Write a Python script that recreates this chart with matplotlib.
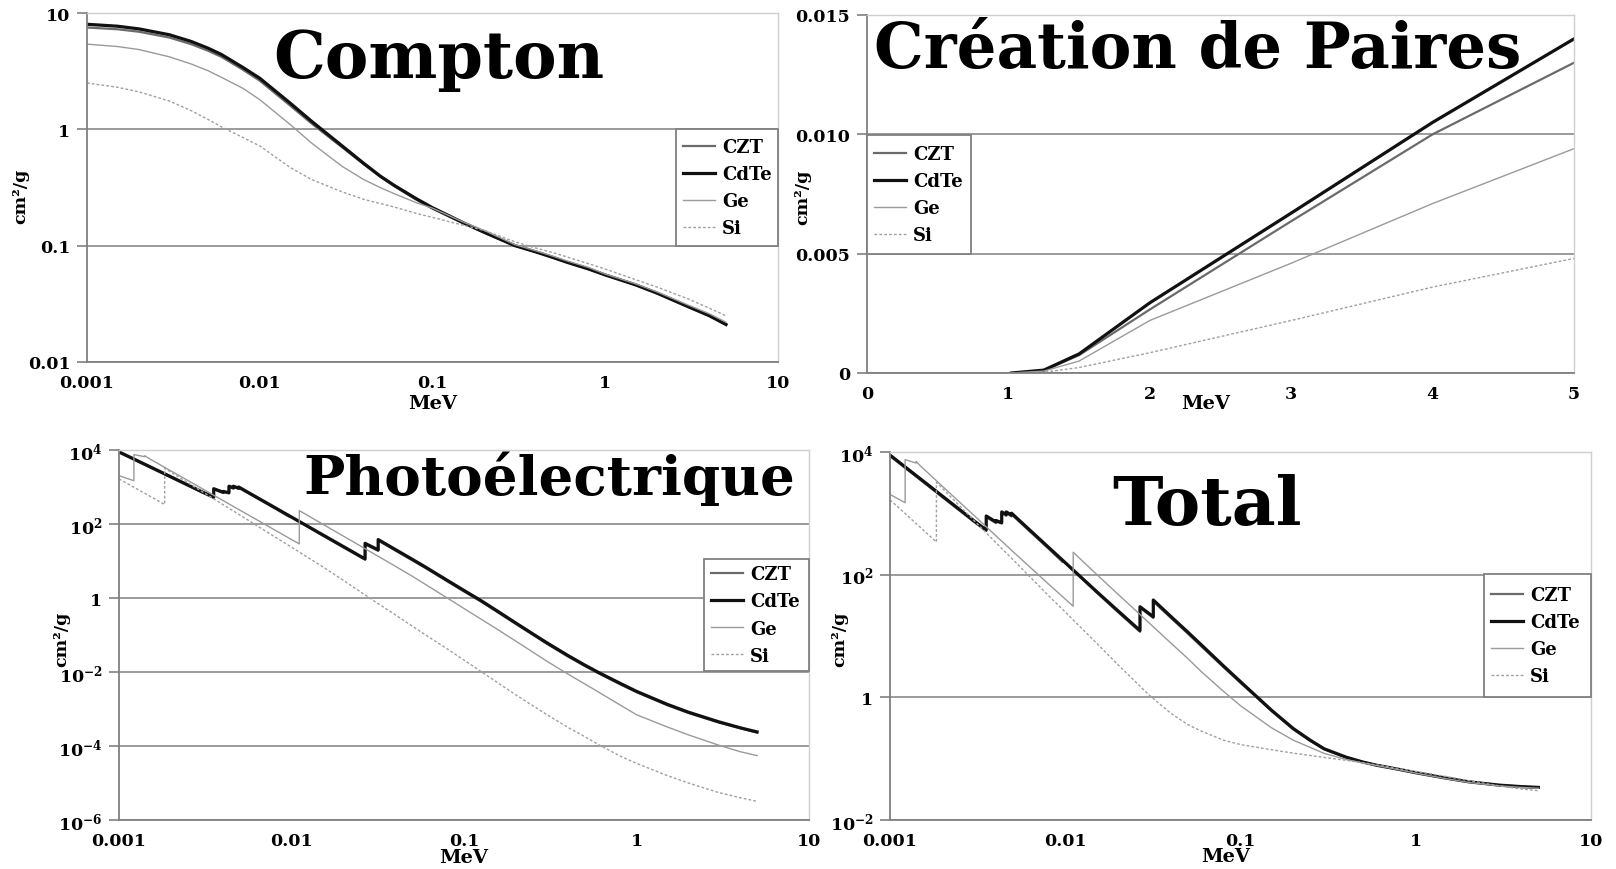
import math
import matplotlib
matplotlib.use('Agg')
import matplotlib.pyplot as plt
from matplotlib.ticker import FixedLocator, FuncFormatter, NullLocator
from matplotlib.patches import Rectangle

plt.rcParams['font.family'] = ['DejaVu Serif']
plt.rcParams['font.weight'] = 'bold'
plt.rcParams['mathtext.default'] = 'regular'

W, H = 1616, 870

MATERIALS = ['CZT', 'CdTe', 'Ge', 'Si']

# ---- Compton (MeV, cm2/g) ----
e_compton = [0.001, 0.0015, 0.002, 0.003, 0.004, 0.005, 0.006, 0.008, 0.01, 0.015,
             0.02, 0.03, 0.04, 0.05, 0.06, 0.08, 0.1, 0.15, 0.2, 0.3,
             0.4, 0.5, 0.6, 0.8, 1, 1.5, 2, 3, 4, 5]
compton_czt = [7.5, 7.25, 6.9, 6.15, 5.4, 4.75, 4.2, 3.25, 2.62, 1.6,
               1.12, 0.7, 0.5, 0.39, 0.325, 0.25, 0.208, 0.156, 0.129, 0.1,
               0.088, 0.079, 0.072, 0.063, 0.056, 0.046, 0.039, 0.030, 0.025, 0.021]
compton_cdte = [8.0, 7.7, 7.3, 6.5, 5.7, 5.0, 4.4, 3.4, 2.75, 1.68,
                1.17, 0.72, 0.51, 0.395, 0.33, 0.255, 0.212, 0.158, 0.13, 0.10,
                0.088, 0.079, 0.072, 0.063, 0.056, 0.046, 0.039, 0.030, 0.025, 0.021]
compton_ge = [5.4, 5.15, 4.85, 4.2, 3.65, 3.2, 2.8, 2.25, 1.8, 1.1,
              0.76, 0.48, 0.37, 0.315, 0.28, 0.235, 0.21, 0.16, 0.135, 0.102,
              0.09, 0.081, 0.074, 0.065, 0.057, 0.047, 0.040, 0.031, 0.026, 0.022]
compton_si = [2.5, 2.3, 2.1, 1.75, 1.45, 1.22, 1.05, 0.85, 0.72, 0.47,
              0.37, 0.29, 0.25, 0.23, 0.215, 0.19, 0.175, 0.15, 0.135, 0.108,
              0.095, 0.087, 0.08, 0.07, 0.063, 0.051, 0.044, 0.035, 0.029, 0.025]

# ---- Pair production ----
e_pair = [1.022, 1.25, 1.5, 2, 3, 4, 5]
pair_czt = [0, 0.0001, 0.00075, 0.00266, 0.00636, 0.0100, 0.0130]
pair_cdte = [0, 0.00012, 0.0008, 0.00294, 0.0067, 0.0105, 0.0140]
pair_ge = [0, 0.00008, 0.0005, 0.0022, 0.0046, 0.0071, 0.0094]
pair_si = [0, 0.00003, 0.00023, 0.00085, 0.0022, 0.0036, 0.0048]

# ---- Photoelectric (absorption edges appear as repeated energies) ----
e_photo_cdte = [0.001, 0.0015, 0.002, 0.003, 0.00354, 0.00354, 0.00402, 0.00402,
                0.00434, 0.00434, 0.00461, 0.00461, 0.00494, 0.00494, 0.006, 0.008,
                0.01, 0.015, 0.02, 0.0267, 0.0267, 0.0318, 0.0318, 0.04, 0.05, 0.06,
                0.08, 0.1, 0.125, 0.15, 0.2, 0.25, 0.3, 0.4, 0.5, 0.6, 0.8, 1, 1.5,
                2, 3, 4, 5]
photo_cdte = [8900, 3590, 1885, 757, 530, 900, 720, 760,
              700, 1050, 950, 1050, 930, 1000, 597, 279,
              154, 52.6, 24.5, 11.4, 30, 20, 38, 20.4, 11.2, 6.8,
              3.0, 1.6, 0.86, 0.5, 0.21, 0.108, 0.063, 0.028, 0.0155, 0.0098, 0.0050,
              0.0030, 0.00135, 0.00082, 0.00045, 0.00031, 0.00024]
e_photo_czt = [0.001, 0.0015, 0.002, 0.003, 0.00354, 0.00354, 0.00402, 0.00402,
               0.00434, 0.00434, 0.00461, 0.00461, 0.00494, 0.00494, 0.006, 0.008,
               0.00966, 0.00966, 0.01, 0.015, 0.02, 0.0267, 0.0267, 0.0318, 0.0318,
               0.04, 0.05, 0.06, 0.08, 0.1, 0.125, 0.15, 0.2, 0.25, 0.3, 0.4, 0.5,
               0.6, 0.8, 1, 1.5, 2, 3, 4, 5]
photo_czt = [8600, 3450, 1810, 727, 510, 860, 690, 730,
             675, 1000, 905, 1000, 885, 950, 567, 265,
             158, 168, 152, 50, 23.3, 10.8, 28.2, 18.8, 35.7,
             19.2, 10.5, 6.4, 2.82, 1.5, 0.81, 0.47, 0.198, 0.102, 0.059, 0.0263,
             0.0146, 0.0093, 0.0047, 0.00285, 0.00128, 0.00078, 0.00043, 0.0003,
             0.00023]
e_photo_ge = [0.001, 0.00122, 0.00122, 0.00141, 0.00141, 0.0015, 0.002, 0.003, 0.004,
              0.005, 0.006, 0.008, 0.01, 0.0111, 0.0111, 0.015, 0.02, 0.03, 0.04,
              0.05, 0.06, 0.08, 0.1, 0.15, 0.2, 0.3, 0.4, 0.5, 0.6, 0.8, 1, 1.5,
              2, 3, 4, 5]
photo_ge = [2020, 1480, 7500, 6600, 7000, 5830, 2720, 933, 433,
            239, 148, 68.8, 38, 29, 230, 102, 47, 15.7, 7.2,
            3.9, 2.3, 1.0, 0.52, 0.16, 0.068, 0.02, 0.0088, 0.0048, 0.0029, 0.0013,
            0.0007, 0.00033, 0.0002, 0.000105, 0.00007, 0.000055]
e_photo_si = [0.001, 0.0015, 0.00184, 0.00184, 0.002, 0.003, 0.004, 0.005, 0.006,
              0.008, 0.01, 0.015, 0.02, 0.03, 0.04, 0.05, 0.06, 0.08, 0.1, 0.15,
              0.2, 0.3, 0.4, 0.5, 0.6, 0.8, 1, 1.5, 2, 3, 4, 5]
photo_si = [1650, 576, 337, 3200, 2510, 775, 336, 177, 104,
            45, 23.7, 7.2, 3.0, 0.84, 0.35, 0.175, 0.1, 0.042, 0.021, 0.0059,
            0.0024, 0.00072, 0.00032, 0.00018, 0.00011, 5.4e-5, 3.4e-5, 1.6e-5,
            1.0e-5, 5.5e-6, 4.0e-6, 3.2e-6]

# ---- Total attenuation (same energy grids as photoelectric) ----
total_cdte = [8900, 3600, 1890, 763, 536, 906, 725, 765,
              705, 1055, 955, 1055, 935, 1005, 601, 282,
              157, 54, 25.7, 12.3, 30, 20.6, 38.6, 20.9, 11.6, 7.1,
              3.25, 1.8, 1.0, 0.62, 0.31, 0.2, 0.145, 0.106, 0.088, 0.078, 0.067,
              0.059, 0.048, 0.042, 0.037, 0.035, 0.034]
total_czt = [8600, 3460, 1815, 733, 516, 866, 695, 735,
             680, 1005, 910, 1005, 890, 955, 571, 268,
             161, 171, 155, 52, 24.5, 11.7, 29, 19.7, 36.5,
             19.8, 11.0, 6.7, 3.1, 1.72, 0.97, 0.6, 0.3, 0.195, 0.142, 0.105, 0.088,
             0.078, 0.067, 0.059, 0.048, 0.042, 0.037, 0.035, 0.034]
total_ge = [2030, 1490, 7510, 6610, 7010, 5840, 2730, 937, 437,
            242, 150, 71, 40, 30.6, 232, 103, 48, 16.5, 7.7,
            4.3, 2.6, 1.25, 0.73, 0.32, 0.2, 0.122, 0.097, 0.085, 0.077, 0.066,
            0.058, 0.047, 0.041, 0.036, 0.034, 0.033]
total_si = [1660, 580, 340, 3200, 2520, 777, 338, 179, 105.5,
            46, 24.6, 7.8, 3.4, 1.1, 0.55, 0.36, 0.28, 0.2, 0.17, 0.14,
            0.123, 0.105, 0.094, 0.086, 0.079, 0.069, 0.062, 0.051,
            0.044, 0.036, 0.032, 0.030]

STYLE = {
    'CZT': dict(color='#6a6a6a', lw=1.6, ls='-'),
    'CdTe': dict(color='#111111', lw=2.3, ls='-'),
    'Ge': dict(color='#9a9a9a', lw=1.0, ls='-'),
    'Si': dict(color='#a0a0a0', lw=1.0, ls=(0, (2, 1.5))),
}


def px_rect(x0, y0, x1, y1):
    # pixel box (top-left origin) -> figure fraction [l, b, w, h]
    return [x0 / W, 1 - y1 / H, (x1 - x0) / W, (y1 - y0) / H]


def log_label(v, pos):
    e = int(round(math.log10(v)))
    if e == 0:
        return '1'
    return r'$\mathdefault{10^{%d}}$' % e


def plain_label(v, pos):
    return '%g' % v


def style_axes(ax):
    for side in ['left', 'bottom']:
        ax.spines[side].set_color('#808080')
        ax.spines[side].set_linewidth(1.3)
    for side in ['top', 'right']:
        ax.spines[side].set_color('#cfcfcf')
        ax.spines[side].set_linewidth(1.0)
    ax.grid(axis='y', color='#8a8a8a', lw=1.2)
    ax.grid(axis='x', visible=False)
    ax.set_axisbelow(True)
    ax.tick_params(axis='y', which='major', length=7, width=1.2, color='#808080',
                   pad=5, labelsize=12.5)
    ax.tick_params(axis='x', which='major', length=0, pad=9, labelsize=12.5)
    ax.xaxis.set_minor_locator(NullLocator())
    ax.yaxis.set_minor_locator(NullLocator())


def add_legend(fig, ax, box, fs=13, spacing=0.5):
    x0, y0, x1, y1 = box
    fig.add_artist(Rectangle((x0 / W, 1 - y1 / H), (x1 - x0) / W, (y1 - y0) / H,
                             transform=fig.transFigure, fc='white', ec='#808080',
                             lw=1.3, zorder=3))
    handles, labels = ax.get_legend_handles_labels()
    fig.legend(handles, labels, loc='center left',
               bbox_to_anchor=((x0 + 3) / W, 1 - (y0 + y1) / 2 / H),
               bbox_transform=fig.transFigure, frameon=False, fontsize=fs,
               handlelength=1.8, handletextpad=0.4, labelspacing=spacing,
               borderpad=0.2, borderaxespad=0)


def axis_labels(ax, ylab_px, xlab_px, rect):
    l, b, w, h = rect
    fx = lambda px: (px / W - l) / w
    fy = lambda py: ((1 - py / H) - b) / h
    ax.set_ylabel('cm²/g', fontsize=12.5, fontweight='bold')
    ax.yaxis.set_label_coords(fx(ylab_px[0]), fy(ylab_px[1]))
    ax.set_xlabel('MeV', fontsize=14, fontweight='bold')
    ax.xaxis.set_label_coords(fx(xlab_px[0]), fy(xlab_px[1]))
    ax.xaxis.label.set_va('center')
    ax.yaxis.label.set_va('center')


fig = plt.figure(figsize=(W / 100, H / 100), dpi=100)

# Compton
r_comp = px_rect(87, 14, 778, 363)
ax1 = fig.add_axes(r_comp)
for name, ys in zip(MATERIALS, [compton_czt, compton_cdte, compton_ge, compton_si]):
    ax1.plot(e_compton, ys, label=name, **STYLE[name])
ax1.set_xscale('log')
ax1.set_yscale('log')
ax1.set_xlim(0.001, 10)
ax1.set_ylim(0.01, 10)
style_axes(ax1)
ax1.xaxis.set_major_locator(FixedLocator([0.001, 0.01, 0.1, 1, 10]))
ax1.yaxis.set_major_locator(FixedLocator([0.01, 0.1, 1, 10]))
ax1.xaxis.set_major_formatter(FuncFormatter(plain_label))
ax1.yaxis.set_major_formatter(FuncFormatter(plain_label))
axis_labels(ax1, (21, 196), (433, 404), r_comp)
add_legend(fig, ax1, (676, 130, 778, 247))

# Pair production
r_pair = px_rect(867, 16, 1574, 374)
ax2 = fig.add_axes(r_pair)
for name, ys in zip(MATERIALS, [pair_czt, pair_cdte, pair_ge, pair_si]):
    ax2.plot(e_pair, ys, label=name, **STYLE[name])
ax2.set_xlim(0, 5)
ax2.set_ylim(0, 0.015)
style_axes(ax2)
ax2.xaxis.set_major_locator(FixedLocator([0, 1, 2, 3, 4, 5]))
ax2.yaxis.set_major_locator(FixedLocator([0, 0.005, 0.010, 0.015]))
ax2.yaxis.set_major_formatter(FuncFormatter(lambda v, p: '0' if v == 0 else '%.3f' % v))
axis_labels(ax2, (803, 197), (1206, 404), r_pair)
add_legend(fig, ax2, (867, 136, 971, 255))

# Photoelectric
r_photo = px_rect(119, 451, 809, 821)
ax3 = fig.add_axes(r_photo)
for name, xs, ys in zip(MATERIALS,
                        [e_photo_czt, e_photo_cdte, e_photo_ge, e_photo_si],
                        [photo_czt, photo_cdte, photo_ge, photo_si]):
    ax3.plot(xs, ys, label=name, **STYLE[name])
ax3.set_xscale('log')
ax3.set_yscale('log')
ax3.set_xlim(0.001, 10)
ax3.set_ylim(1e-6, 1e4)
style_axes(ax3)
ax3.xaxis.set_major_locator(FixedLocator([0.001, 0.01, 0.1, 1, 10]))
ax3.yaxis.set_major_locator(FixedLocator([1e-6, 1e-4, 1e-2, 1, 1e2, 1e4]))
ax3.xaxis.set_major_formatter(FuncFormatter(plain_label))
ax3.yaxis.set_major_formatter(FuncFormatter(log_label))
axis_labels(ax3, (62, 639), (464, 858), r_photo)
add_legend(fig, ax3, (704, 560, 809, 672))

# Total
r_tot = px_rect(890, 453, 1591, 821)
ax4 = fig.add_axes(r_tot)
for name, xs, ys in zip(MATERIALS,
                        [e_photo_czt, e_photo_cdte, e_photo_ge, e_photo_si],
                        [total_czt, total_cdte, total_ge, total_si]):
    ax4.plot(xs, ys, label=name, **STYLE[name])
ax4.set_xscale('log')
ax4.set_yscale('log')
ax4.set_xlim(0.001, 10)
ax4.set_ylim(1e-2, 1e4)
style_axes(ax4)
ax4.xaxis.set_major_locator(FixedLocator([0.001, 0.01, 0.1, 1, 10]))
ax4.yaxis.set_major_locator(FixedLocator([1e-2, 1, 1e2, 1e4]))
ax4.xaxis.set_major_formatter(FuncFormatter(plain_label))
ax4.yaxis.set_major_formatter(FuncFormatter(log_label))
axis_labels(ax4, (840, 639), (1226, 857), r_tot)
add_legend(fig, ax4, (1484, 575, 1591, 698))

# panel titles
titles = [('Compton', 439, 78, 47), ('Création de Paires', 1198, 68, 45),
          ('Photoélectrique', 549, 495, 39.5), ('Total', 1207, 525, 49)]
for txt, cx, base, fs in titles:
    fig.text(cx / W, 1 - base / H, txt, ha='center', va='baseline',
             fontsize=fs, fontweight='bold', color='black', zorder=6)

fig.savefig('out.png', dpi=100, facecolor='white')
